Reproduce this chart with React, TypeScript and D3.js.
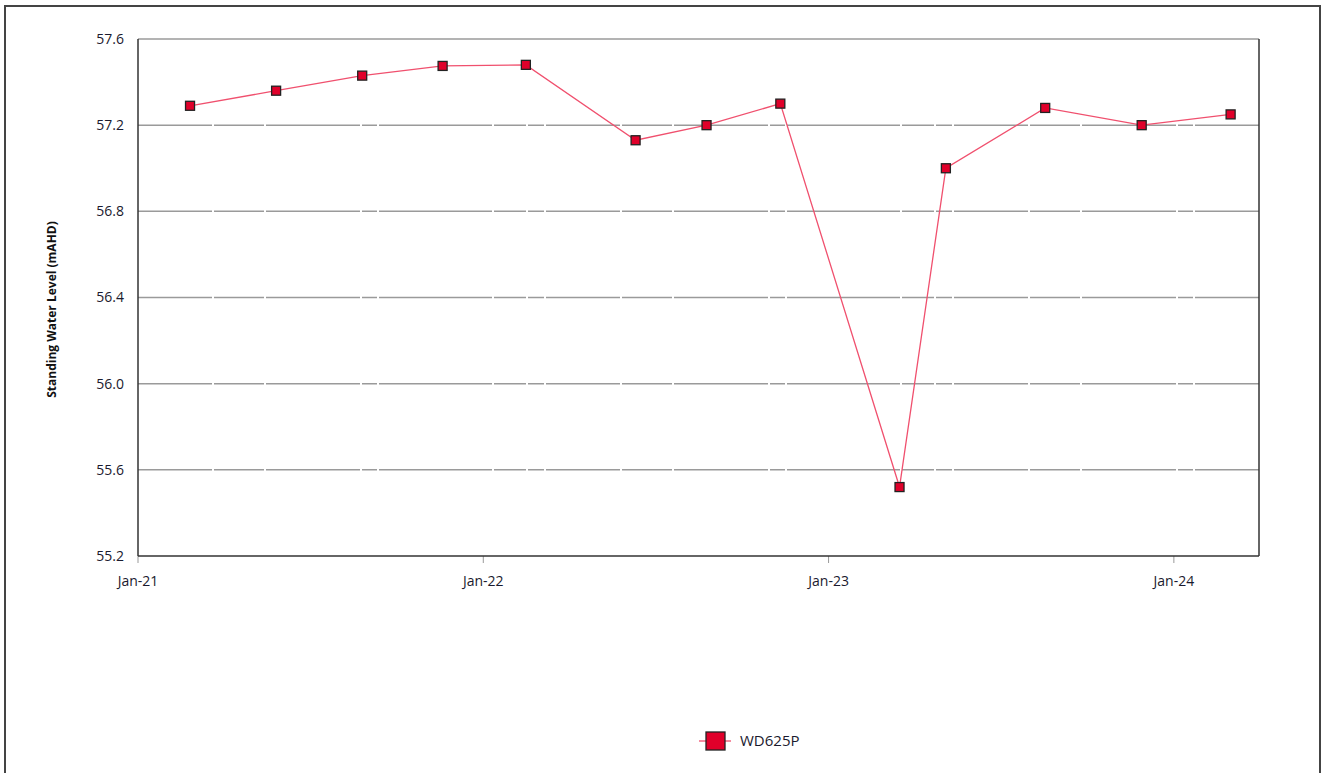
import React from "react";
import * as d3 from "d3";

const dates: string[] = [
  "2021-02-25", "2021-05-27", "2021-08-26", "2021-11-19", "2022-02-15",
  "2022-06-11", "2022-08-25", "2022-11-11", "2023-03-17", "2023-05-05",
  "2023-08-18", "2023-11-28", "2024-03-01",
];
const levels: number[] = [
  57.29, 57.36, 57.43, 57.475, 57.48, 57.13, 57.2, 57.3, 55.52, 57.0, 57.28, 57.2, 57.25,
];
const yTicks: number[] = [55.2, 55.6, 56.0, 56.4, 56.8, 57.2, 57.6];
const xTickDates: string[] = ["2021-01-01", "2022-01-01", "2023-01-01", "2024-01-01"];
const seriesName = "WD625P";
const yTitle = "Standing Water Level (mAHD)";

const W = 1323, H = 773;
const L = 138, T = 39, R = 1259, B = 556;
const FONT = "'Open Sans', 'Liberation Sans', sans-serif";

export default function App() {
  const parse = d3.utcParse("%Y-%m-%d");
  const x = d3.scaleUtc()
    .domain([parse("2021-01-01")!, parse("2024-03-31")!])
    .range([L, R]);
  const y = d3.scaleLinear().domain([55.2, 57.6]).range([B, T]);
  const fmt = d3.utcFormat("%b-%y");
  const pts = dates.map((d, i) => ({ x: x(parse(d)!), y: y(levels[i]) }));
  const line = d3.line<{ x: number; y: number }>().x(d => d.x).y(d => d.y);
  const ms = 9;

  return (
    <svg width={W} height={H} style={{ position: "absolute", left: 0, top: 0, background: "#fff" }}>
      <rect x={5} y={6} width={1315} height={800} fill="#fff" stroke="#444" strokeWidth={2} />
      {yTicks.map(t => (
        <g key={t}>
          {t !== 55.2 && (
            <line x1={L} x2={R} y1={y(t)} y2={y(t)} stroke="#9a9a9a" strokeWidth={1.5}
              strokeDasharray={t === 57.6 ? undefined : "74 2 50 2 94 2 15 2 113 2 32 2 16 2"} />
          )}
          <text x={L - 14} y={y(t)} dy="0.35em" textAnchor="end" fontFamily={FONT}
            fontSize={14} fill="#1a1a2e">{t.toFixed(1)}</text>
        </g>
      ))}
      {xTickDates.map(d => {
        const xx = x(parse(d)!);
        return (
          <g key={d}>
            <line x1={xx} x2={xx} y1={B} y2={B + 7} stroke="#999" strokeWidth={1} />
            <text x={xx} y={B + 30} textAnchor="middle" fontFamily={FONT} fontSize={14}
              fill="#1a1a2e">{fmt(parse(d)!)}</text>
          </g>
        );
      })}
      <line x1={L} x2={L} y1={T} y2={B} stroke="#333" strokeWidth={1.5} />
      <line x1={L} x2={R} y1={B} y2={B} stroke="#333" strokeWidth={1.5} />
      <line x1={R} x2={R} y1={T} y2={B} stroke="#333" strokeWidth={1.5} />
      <text transform={`translate(56,${(T + B) / 2 + 12}) rotate(-90)`} textAnchor="middle"
        fontFamily={FONT} fontSize={12} fontWeight="bold" fill="#111">{yTitle}</text>
      <path d={line(pts) || ""} fill="none" stroke="#f0506e" strokeWidth={1.3} />
      {pts.map((p, i) => (
        <rect key={i} x={p.x - ms / 2} y={p.y - ms / 2} width={ms} height={ms}
          fill="#e0002a" stroke="#222" strokeWidth={1.3} />
      ))}
      <g>
        <line x1={699} x2={731} y1={741} y2={741} stroke="#f0506e" strokeWidth={1.3} />
        <rect x={706} y={732} width={19} height={18} fill="#e0002a" stroke="#222" strokeWidth={1.3} />
        <text x={740} y={741} dy="0.35em" fontFamily={FONT} fontSize={15} fill="#1a1a2e">{seriesName}</text>
      </g>
    </svg>
  );
}
